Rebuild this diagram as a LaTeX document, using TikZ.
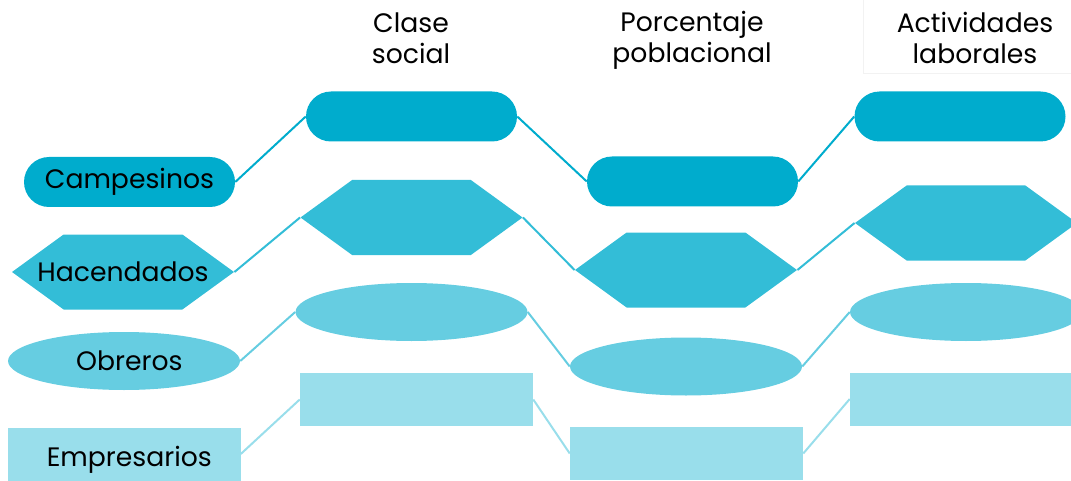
\documentclass[tikz,border=0pt]{standalone}
\usepackage{fontspec}
\setmainfont{Poppins}
\usetikzlibrary{shapes.geometric, shapes.symbols}
\definecolor{tealA}{HTML}{00ACCD}
\definecolor{tealB}{HTML}{33BDD7}
\definecolor{tealC}{HTML}{66CDE1}
\definecolor{tealD}{HTML}{99DEEB}
\definecolor{inkfaint}{HTML}{F2F2F2}

\begin{document}
\begin{tikzpicture}[x=0.75pt, y=-0.75pt,
    font=\fontsize{20}{23.5}\selectfont,
    pill/.style={fill=tealA, rounded corners=18.75pt, inner sep=0pt,
                 minimum width=158.25pt, minimum height=37.5pt},
    hexa/.style={shape=signal, signal to=east and west,
                 signal pointer angle=72, fill=tealB, inner sep=0pt,
                 minimum width=166.5pt, minimum height=56.25pt},
    oval/.style={ellipse, fill=tealC, inner sep=0pt,
                 minimum width=174pt, minimum height=43.5pt},
    boxy/.style={fill=tealD, inner sep=0pt,
                 minimum width=174.75pt, minimum height=39.75pt},
    link/.style={line width=1.5pt},
    head/.style={align=center, text=black}]
  \clip (0,0) rectangle (1071,481);
  \draw[inkfaint, line width=0.6pt] (863,-5) rectangle (1080,73);
  % column headings
  \node[head] (h1) at (411,38) {Clase\\social};
  \node[head] (h2) at (692,40) {Porcentaje\\poblacional};
  \node[head] (h3) at (975,38) {Actividades\\laborales};
  % first column, with labels
  \node[pill] (pill0) at (129.5,182) {Campesinos};
  \node[hexa, label=center:Hacendados] (hexa0) at (123,272) {};
  \node[oval, label={[xshift=4pt]center:Obreros}] (oval0) at (124,361) {};
  \node[boxy, label={[yshift=-4pt, xshift=4pt]center:Empresarios}] (boxy0)
    at (124,454) {};
  % empty shapes
  \node[pill] (pill1) at (411.5,116.5) {};
  \node[hexa] (hexa1) at (411.5,217.5) {};
  \node[oval] (oval1) at (411.5,312) {};
  \node[boxy] (boxy1) at (416.5,399.5) {};
  \node[pill] (pill2) at (692.5,181.5) {};
  \node[hexa] (hexa2) at (686,270) {};
  \node[oval] (oval2) at (686,366.5) {};
  \node[boxy] (boxy2) at (686.5,453.5) {};
  \node[pill] (pill3) at (960,116.5) {};
  \node[hexa] (hexa3) at (966,223) {};
  \node[oval] (oval3) at (966,312) {};
  \node[boxy] (boxy3) at (966.5,399) {};
  % connectors
  \foreach \shp/\col in {pill/tealA, hexa/tealB, oval/tealC, boxy/tealD}{%
    \foreach \a/\b in {0/1, 1/2, 2/3}{%
      \draw[\col, link] (\shp\a.east) -- (\shp\b.west);}}
\end{tikzpicture}
\end{document}
